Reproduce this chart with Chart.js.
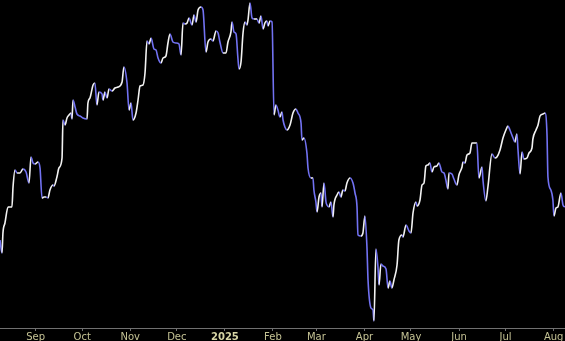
<!DOCTYPE html>
<html>
<head>
<meta charset="utf-8">
<script src="https://cdn.jsdelivr.net/npm/chart.js@4"></script>
<style>
  html, body { margin: 0; padding: 0; background: #000; }
  #wrap { width: 565px; height: 341px; }
</style>
</head>
<body>
<div id="wrap"><canvas id="chart" width="565" height="341"></canvas></div>
<script>
// days since 9 Aug 2024
const days = [
  0, 1.3, 1.9, 3.2, 5.2, 6.4, 7.7, 8.4, 9.7, 11.0,
  12.9, 14.8, 16.8, 18.7, 20.0, 21.3, 22.6, 24.5, 25.8, 27.1,
  28.4, 29.7, 30.9, 32.2, 34.2, 34.8, 36.7, 38.0, 40.0, 40.6,
  41.9, 43.2, 44.5, 45.8, 46.4, 47.1, 48.4, 49.6, 51.6, 53.5,
  56.1, 56.7, 58.0, 60.0, 61.2, 62.5, 63.8, 65.8, 66.4, 67.7,
  69.0, 70.3, 72.2, 74.1, 76.1, 78.7, 79.9, 81.9, 83.2, 84.5,
  85.7, 87.7, 89.0, 90.3, 92.2, 93.5, 94.8, 96.1, 97.4, 99.3,
  100.6, 101.9, 103.8, 105.1, 107.0, 108.3, 109.6, 111.5, 113.5, 115.4,
  116.7, 118.0, 119.3, 120.6, 121.9, 123.8, 125.1, 126.4, 127.7, 129.6,
  130.9, 132.8, 134.1, 136.0, 137.3, 139.3, 140.6, 141.8, 143.8, 145.7,
  147.0, 148.9, 149.6, 150.9, 152.2, 153.4, 154.1, 155.4, 156.7, 158.0,
  159.2, 159.9, 161.2, 162.5, 163.8, 165.7, 167.0, 168.3, 169.6, 170.8,
  172.1, 172.8, 174.1, 175.4, 176.7, 177.9, 179.2, 180.5, 181.8, 182.5,
  183.7, 185.0, 187.0, 188.9, 190.8, 192.1, 194.1, 194.7, 196.0, 197.9,
  198.6, 200.5, 201.8, 202.4, 203.7, 204.4, 205.7, 207.0, 207.6, 208.9,
  210.2, 210.8, 212.1, 213.4, 214.7, 215.3, 217.3, 218.6, 219.8, 221.1,
  222.4, 223.7, 225.7, 227.6, 228.9, 230.2, 230.8, 232.7, 234.0, 235.3,
  236.6, 237.3, 239.2, 240.5, 241.1, 242.4, 243.7, 244.4, 245.6, 246.9,
  248.9, 250.2, 251.4, 252.7, 254.0, 256.0, 257.2, 259.2, 259.8, 261.8,
  263.7, 265.0, 266.3, 268.2, 268.9, 270.8, 272.1, 273.4, 274.6, 275.9,
  277.2, 278.5, 279.8, 281.7, 283.0, 285.0, 286.3, 287.5, 288.8, 289.5,
  291.4, 292.7, 294.6, 295.9, 297.9, 298.5, 299.8, 301.1, 303.0, 304.3,
  306.2, 307.5, 308.8, 310.8, 311.4, 313.3, 314.6, 317.2, 319.1, 320.4,
  322.4, 324.3, 326.2, 327.5, 328.8, 330.8, 332.0, 333.3, 334.0, 335.3,
  336.6, 337.8, 339.8, 341.1, 343.0, 343.6, 345.6, 346.9, 348.2, 350.1,
  351.4, 352.7, 353.3, 355.2, 356.5, 357.2, 358.5, 359.7, 361.7, 363.0,
  364.3
];

const closes = [
  88, 75, 95, 105, 121, 121, 121, 141, 158, 155,
  155, 159, 156, 145, 171, 165, 164, 166, 160, 130,
  131, 131, 130, 138, 143, 142, 151, 160, 170, 208,
  203, 210, 213, 215, 209, 228, 221, 214, 212, 210,
  209, 225, 230, 243, 245, 223, 236, 234, 228, 236,
  230, 239, 237, 240, 241, 246, 261, 245, 218, 225,
  208, 215, 228, 242, 243, 255, 287, 284, 290, 279,
  278, 270, 265, 270, 272, 285, 294, 286, 285, 284,
  273, 305, 304, 305, 310, 303, 313, 306, 318, 321,
  318, 276, 286, 289, 287, 297, 295, 286, 275, 275,
  286, 296, 306, 296, 294, 270, 259, 266, 295, 306,
  303, 308, 325, 310, 309, 309, 305, 312, 299, 305,
  307, 302, 307, 306, 213, 223, 218, 211, 216, 208,
  201, 198, 203, 215, 219, 215, 205, 188, 190, 175,
  160, 150, 150, 138, 126, 116, 131, 135, 121, 145,
  126, 123, 121, 126, 111, 123, 133, 136, 131, 138,
  137, 145, 150, 145, 135, 121, 93, 92, 95, 112,
  81, 48, 20, 18, 7, 79, 61, 43, 64, 62,
  59, 40, 47, 40, 48, 63, 88, 93, 91, 103,
  97, 95, 115, 126, 122, 128, 143, 145, 162, 163,
  165, 156, 161, 162, 165, 156, 155, 148, 139, 155,
  154, 149, 143, 153, 161, 166, 165, 173, 175, 185,
  185, 185, 150, 161, 148, 127, 141, 174, 170, 171,
  178, 190, 198, 202, 198, 190, 186, 194, 178, 154,
  176, 169, 170, 175, 180, 189, 198, 203, 212, 214,
  215, 193, 151, 138, 128, 112, 120, 121, 135, 123,
  121
];

// month starts (days since 9 Aug 2024) and their labels
const monthTicks = [23, 53, 84, 114, 145, 176, 204, 235, 265, 296, 326, 357];
const monthLabels = ['Sep', 'Oct', 'Nov', 'Dec', '2025', 'Feb', 'Mar', 'Apr', 'May', 'Jun', 'Jul', 'Aug'];

const UP = '#f2f2f2';
const DOWN = '#7272f2';

const points = days.map((d, i) => ({ x: d, y: closes[i] }));

new Chart(document.getElementById('chart'), {
  type: 'line',
  data: {
    datasets: [{
      data: points,
      borderColor: UP,
      borderWidth: 1.6,
      pointRadius: 0,
      cubicInterpolationMode: 'monotone',
      segment: {
        borderColor: ctx => ctx.p1.parsed.y < ctx.p0.parsed.y ? DOWN : UP
      }
    }]
  },
  options: {
    responsive: false,
    animation: false,
    layout: { padding: 0 },
    plugins: { legend: { display: false }, tooltip: { enabled: false } },
    scales: {
      x: {
        type: 'linear',
        min: 0,
        max: 364.3,
        afterBuildTicks: scale => { scale.ticks = monthTicks.map(v => ({ value: v })); },
        afterFit: scale => { scale.height = 13; },
        border: { color: '#707070', width: 1 },
        grid: { drawOnChartArea: false, tickLength: 3, color: '#707070' },
        ticks: {
          autoSkip: false,
          maxRotation: 0,
          padding: 0,
          callback: (v) => monthLabels[monthTicks.indexOf(v)] || '',
          color: ctx => ctx.tick && ctx.tick.value === 145 ? '#d6d4a4' : '#c4c294',
          font: ctx => ({
            family: 'DejaVu Sans',
            size: 10,
            weight: ctx.tick && ctx.tick.value === 145 ? 'bold' : 'normal'
          })
        }
      },
      y: {
        display: false,
        min: 0,
        max: 328
      }
    }
  }
});
</script>
</body>
</html>
